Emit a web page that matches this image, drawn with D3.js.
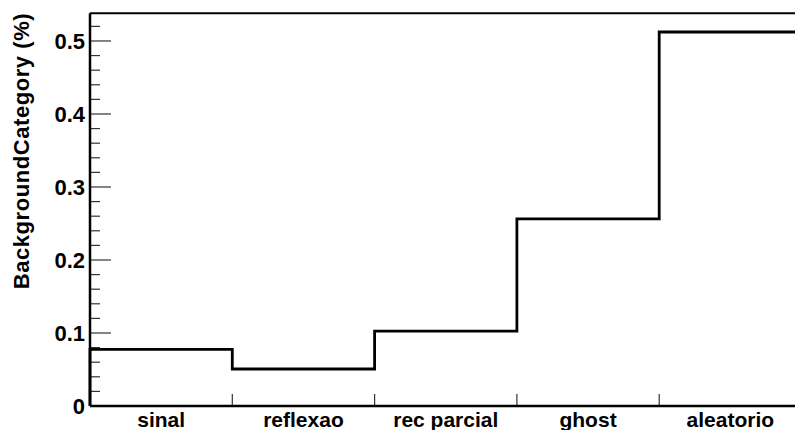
<!DOCTYPE html>
<html>
<head>
<meta charset="utf-8">
<script src="https://cdn.jsdelivr.net/npm/d3@7"></script>
<style>
  html, body { margin: 0; padding: 0; background: #fff; }
  svg { display: block; }
  text { font-family: "Liberation Sans", Arial, Helvetica, sans-serif; font-weight: bold; fill: #000; }
</style>
</head>
<body>
<svg id="chart" width="795" height="430"></svg>
<script>
// Background category fractions per class (%)
const categories = ["sinal", "reflexao", "rec parcial", "ghost", "aleatorio"];
const fractions = [0.0777, 0.0507, 0.1027, 0.2562, 0.5123];
const yTickValues = [0, 0.1, 0.2, 0.3, 0.4, 0.5];
const yTickLabels = ["0", "0.1", "0.2", "0.3", "0.4", "0.5"];
const yTitle = "BackgroundCategory (%)";

const svg = d3.select("#chart");
const frameLeft = 90, frameRight = 801.5, frameTop = 13.3, frameBottom = 406;

const yMax = d3.max(fractions) * 1.05;
const x = d3.scaleLinear().domain([0, categories.length]).range([frameLeft, frameRight]);
const y = d3.scaleLinear().domain([0, yMax]).range([frameBottom, frameTop]);

// frame top border
svg.append("line").attr("x1", frameLeft).attr("x2", frameRight).attr("y1", frameTop).attr("y2", frameTop)
  .attr("stroke", "#000").attr("stroke-width", 2);

// y minor ticks every 0.02, major every 0.1
const minor = d3.range(0, yMax, 0.02).filter(v => Math.abs(v * 10 - Math.round(v * 10)) > 1e-6);
svg.append("g").selectAll("line").data(minor).join("line")
  .attr("x1", frameLeft).attr("x2", frameLeft + 10)
  .attr("y1", d => y(d)).attr("y2", d => y(d))
  .attr("stroke", "#333").attr("stroke-width", 1.2);
svg.append("g").selectAll("line").data(yTickValues).join("line")
  .attr("x1", frameLeft).attr("x2", frameLeft + 21)
  .attr("y1", d => y(d)).attr("y2", d => y(d))
  .attr("stroke", "#333").attr("stroke-width", 1.2);
svg.append("g").selectAll("text").data(yTickValues).join("text")
  .attr("x", frameLeft - 5).attr("y", d => y(d))
  .attr("dy", "0.36em")
  .attr("text-anchor", "end")
  .attr("font-size", 22)
  .text((d, i) => yTickLabels[i]);

// x bin-edge ticks
const edges = d3.range(1, categories.length);
svg.append("g").selectAll("line").data(edges).join("line")
  .attr("x1", d => x(d)).attr("x2", d => x(d))
  .attr("y1", frameBottom).attr("y2", frameBottom - 12)
  .attr("stroke", "#333").attr("stroke-width", 1.2);
svg.append("g").selectAll("text").data(categories).join("text")
  .attr("x", (d, i) => x(i + 0.5)).attr("y", 427)
  .attr("text-anchor", "middle")
  .attr("font-size", 21)
  .text(d => d);

// histogram outline
const pts = [[x(0), y(0)]];
fractions.forEach((v, i) => { pts.push([x(i), y(v)]); pts.push([x(i + 1), y(v)]); });
svg.append("path")
  .attr("d", d3.line()(pts))
  .attr("fill", "none").attr("stroke", "#000").attr("stroke-width", 2.8)
  .attr("stroke-linejoin", "miter");

// axis lines
svg.append("line").attr("x1", frameLeft).attr("x2", frameLeft).attr("y1", frameTop).attr("y2", frameBottom)
  .attr("stroke", "#000").attr("stroke-width", 2.5);
svg.append("line").attr("x1", frameLeft).attr("x2", frameRight).attr("y1", frameBottom).attr("y2", frameBottom)
  .attr("stroke", "#000").attr("stroke-width", 2.5);

// y title
svg.append("text")
  .attr("transform", `translate(29,${frameTop}) rotate(-90)`)
  .attr("text-anchor", "end")
  .attr("font-size", 22)
  .attr("textLength", 276)
  .attr("lengthAdjust", "spacing")
  .text(yTitle);
</script>
</body>
</html>
